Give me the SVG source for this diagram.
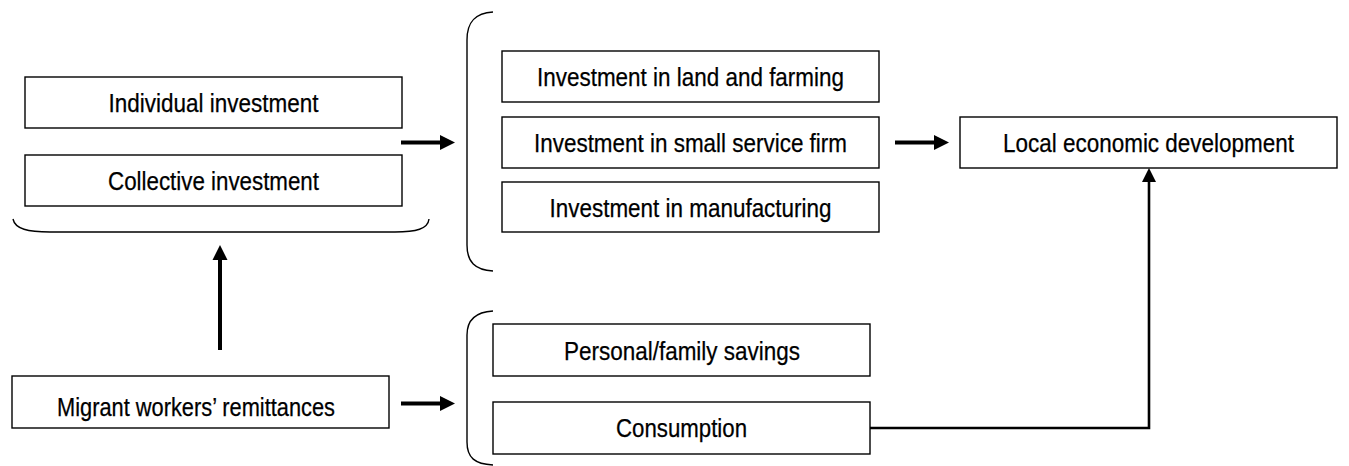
<svg xmlns="http://www.w3.org/2000/svg" width="1349" height="466" viewBox="0 0 1349 466">
<style>
.box{fill:#fff;stroke:#000;stroke-width:1.4}
.t{font-family:"Liberation Sans Narrow","Liberation Sans",Arial,sans-serif;font-size:26px;fill:#000;stroke:#000;stroke-width:0.25;text-anchor:middle}
.br{fill:none;stroke:#000;stroke-width:1.4}
.ar{fill:none;stroke:#000;stroke-width:4}
.ln{fill:none;stroke:#000;stroke-width:2.6}
.hd{fill:#000;stroke:none}
</style>
<g id="brackets">
<path class="br" d="M13,219 C15,229 28,232 50,232 L395,232 C416,232 428,229 429,219"/>
<path class="br" d="M493,12 C475,13 467,22 467,40 L467,245 C467,262 475,270 493,271"/>
<path class="br" d="M493,311 C475,312 467,320 467,335 L467,442 C467,458 475,464 493,465"/>
</g>
<g id="connectors">
<line class="ar" x1="401" y1="142.5" x2="442" y2="142.5"/>
<polygon class="hd" points="440,135 455,142.5 440,150"/>
<line class="ar" x1="895" y1="142.5" x2="936" y2="142.5"/>
<polygon class="hd" points="934,135 949,142.5 934,150"/>
<line class="ar" x1="401" y1="403.5" x2="442" y2="403.5"/>
<polygon class="hd" points="440,396 455,403.5 440,411"/>
<line class="ar" x1="220" y1="350" x2="220" y2="258"/>
<polygon class="hd" points="212.5,260 220,245 227.5,260"/>
<polyline class="ln" points="869,428 1149,428 1149,180"/>
<polygon class="hd" points="1142,182 1149,168 1156,182"/>
</g>
<g id="individual"><rect class="box" x="25" y="77" width="377" height="51"/><text class="t" x="213.5" y="112" textLength="210" lengthAdjust="spacingAndGlyphs">Individual investment</text></g>
<g id="collective"><rect class="box" x="25" y="155" width="377" height="51"/><text class="t" x="213.5" y="190" textLength="211" lengthAdjust="spacingAndGlyphs">Collective investment</text></g>
<g id="land"><rect class="box" x="502" y="51" width="377" height="51"/><text class="t" x="690.5" y="86" textLength="307" lengthAdjust="spacingAndGlyphs">Investment in land and farming</text></g>
<g id="service"><rect class="box" x="502" y="117" width="377" height="51"/><text class="t" x="690.5" y="152" textLength="313" lengthAdjust="spacingAndGlyphs">Investment in small service firm</text></g>
<g id="manufacturing"><rect class="box" x="502" y="182" width="377" height="50"/><text class="t" x="690.5" y="217" textLength="282" lengthAdjust="spacingAndGlyphs">Investment in manufacturing</text></g>
<g id="local"><rect class="box" x="960" y="117" width="377" height="51"/><text class="t" x="1148.5" y="152" textLength="291" lengthAdjust="spacingAndGlyphs">Local economic development</text></g>
<g id="migrant"><rect class="box" x="12" y="376" width="377" height="52"/><text class="t" x="196" y="416" textLength="278" lengthAdjust="spacingAndGlyphs">Migrant workers’ remittances</text></g>
<g id="savings"><rect class="box" x="493" y="324" width="377" height="52"/><text class="t" x="682" y="360" textLength="236" lengthAdjust="spacingAndGlyphs">Personal/family savings</text></g>
<g id="consumption"><rect class="box" x="493" y="402" width="377" height="52"/><text class="t" x="681.5" y="437" textLength="131" lengthAdjust="spacingAndGlyphs">Consumption</text></g>
</svg>
